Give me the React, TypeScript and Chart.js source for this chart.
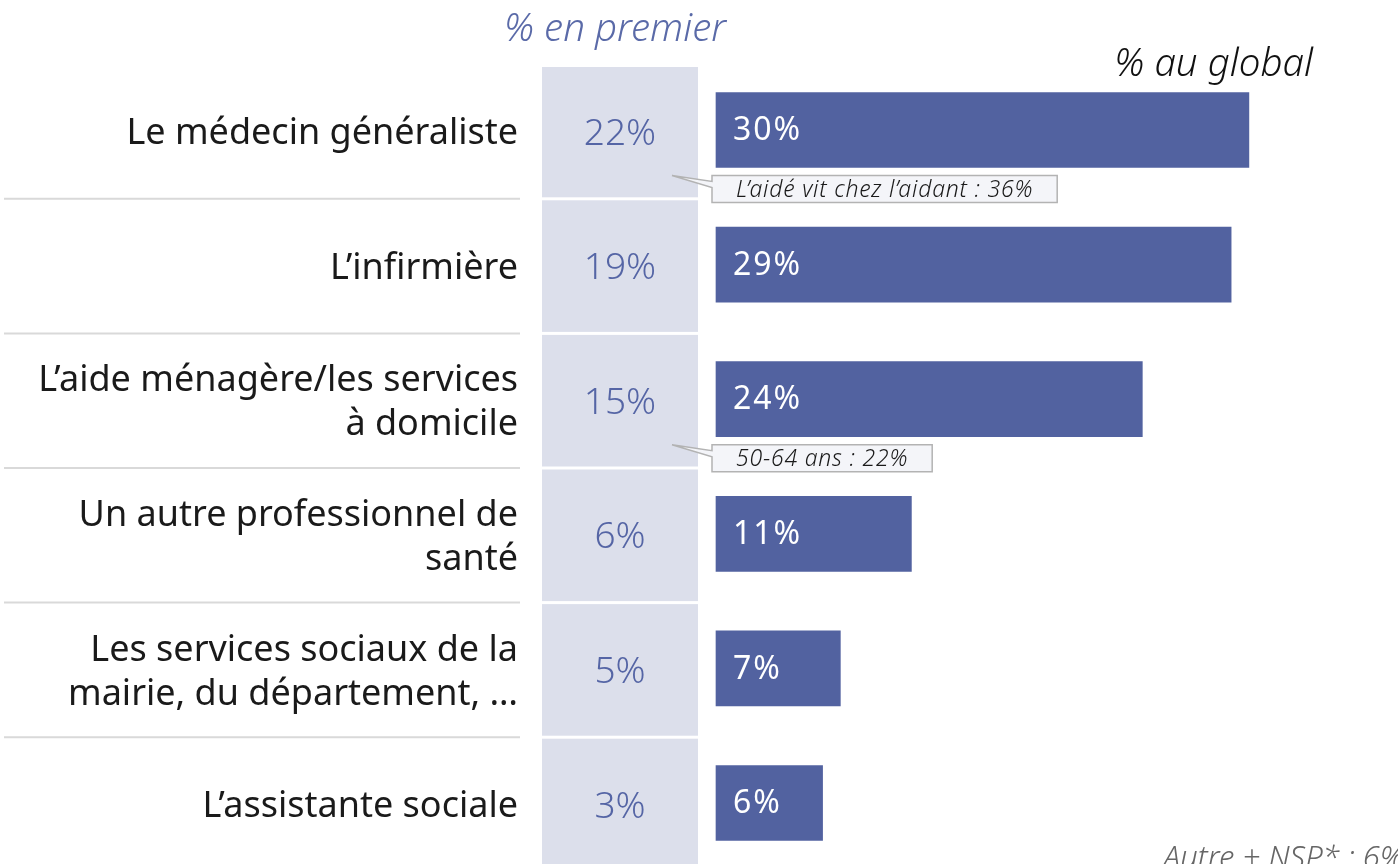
import React, { useEffect, useRef } from "react";
import { Chart, registerables } from "chart.js";
Chart.register(...registerables);

const categories: string[][] = [
  ["Le médecin généraliste"],
  ["L’infirmière"],
  ["L’aide ménagère/les services", "à domicile"],
  ["Un autre professionnel de", "santé"],
  ["Les services sociaux de la", "mairie, du département, …"],
  ["L’assistante sociale"],
];
const globalValues = [30, 29, 24, 11, 7, 6];
const firstValues = [22, 19, 15, 6, 5, 3];
const calloutIndex = [0, 2];
const calloutText = ["L’aidé vit chez l’aidant : 36%", "50-64 ans : 22%"];
const headerFirst = "% en premier";
const headerGlobal = "% au global";
const footerNote = "Autre + NSP* : 6%";

const FONT = "'Noto Sans', Lato, sans-serif";
const BAR = "#5262a0";
const COL = "#dcdfeb";

const decor = {
  id: "decor",
  beforeDatasetsDraw(chart: any) {
    const ctx = chart.ctx as CanvasRenderingContext2D;
    const ys = chart.scales.y;
    const n = categories.length;
    const centers = categories.map((_, i) => ys.getPixelForValue(i));
    const bounds: number[] = [];
    for (let i = 0; i < n - 1; i++) bounds.push((centers[i] + centers[i + 1]) / 2 + 1.5);
    const colL = 542, colR = 698;
    const top = centers[0] - 63;
    const bottom = chart.height;
    ctx.save();
    ctx.fillStyle = COL;
    for (let i = 0; i < n; i++) {
      const t = i === 0 ? top : bounds[i - 1] + 1.5;
      const b = i === n - 1 ? bottom : bounds[i] - 1.5;
      ctx.fillRect(colL, t, colR - colL, b - t);
    }
    ctx.strokeStyle = "#d9d9d9";
    ctx.lineWidth = 2;
    for (const b of bounds) {
      ctx.beginPath();
      ctx.moveTo(4, b);
      ctx.lineTo(520, b);
      ctx.stroke();
    }
    ctx.fillStyle = "#5565a5";
    ctx.font = `300 37px ${FONT}`;
    ctx.textAlign = "center";
    ctx.textBaseline = "middle";
    firstValues.forEach((v, i) => ctx.fillText(`${v}%`, (colL + colR) / 2, centers[i] + 4));
    // headers
    ctx.font = `italic 300 38.5px ${FONT}`;
    ctx.fillStyle = "#5a6aa8";
    ctx.textBaseline = "alphabetic";
    ctx.fillText(headerFirst, 615, 41);
    ctx.fillStyle = "#111";
    ctx.textAlign = "right";
    ctx.fillText(headerGlobal, 1313, 76);
    ctx.fillStyle = "#666";
    ctx.font = `italic 300 31px ${FONT}`;
    ctx.fillText(footerNote, 1404, 868);
    ctx.restore();
  },
  afterDatasetsDraw(chart: any) {
    const ctx = chart.ctx as CanvasRenderingContext2D;
    const meta = chart.getDatasetMeta(0);
    ctx.save();
    ctx.fillStyle = "#ffffff";
    ctx.font = `400 32px ${FONT}`;
    (ctx as any).letterSpacing = "2px";
    ctx.textAlign = "left";
    ctx.textBaseline = "middle";
    meta.data.forEach((el: any, i: number) => {
      ctx.fillText(`${globalValues[i]}%`, el.base + 17, el.y + 1);
    });
    // callouts
    ctx.font = `italic 300 23px ${FONT}`;
    (ctx as any).letterSpacing = "0.8px";
    calloutIndex.forEach((idx, k) => {
      const el: any = meta.data[idx];
      const L = el.base - 4;
      const T = el.y + el.height / 2 + 8;
      const w = ctx.measureText(calloutText[k]).width + 48;
      const H = 27;
      ctx.beginPath();
      ctx.moveTo(L, T);
      ctx.lineTo(L + w, T);
      ctx.lineTo(L + w, T + H);
      ctx.lineTo(L, T + H);
      ctx.lineTo(L, T + 12);
      ctx.lineTo(L - 40, T);
      ctx.lineTo(L, T + 6);
      ctx.closePath();
      ctx.fillStyle = "#f4f5f9";
      ctx.fill();
      ctx.strokeStyle = "#b3b3b3";
      ctx.lineWidth = 1.5;
      ctx.stroke();
      ctx.fillStyle = "#1a1a1a";
      ctx.textAlign = "left";
      ctx.textBaseline = "middle";
      ctx.fillText(calloutText[k], L + 24, T + H / 2 + 1);
    });
    ctx.restore();
  },
};

export default function App() {
  const ref = useRef<HTMLCanvasElement>(null);
  useEffect(() => {
    if (!ref.current) return;
    const chart = new Chart(ref.current, {
      type: "bar",
      data: {
        labels: categories,
        datasets: [
          {
            data: globalValues,
            backgroundColor: BAR,
            barThickness: 75,
            clip: false as any,
          },
        ],
      },
      options: {
        indexAxis: "y",
        animation: false,
        responsive: false,
        layout: { padding: { top: 130, bottom: 61, left: 0, right: 7 } },
        plugins: { legend: { display: false }, tooltip: { enabled: false } },
        scales: {
          x: { type: "linear", min: 0, max: 38, display: false },
          y: {
            type: "category",
            offset: false,
            grid: { display: false, drawTicks: false },
            border: { display: false },
            afterFit: (s: any) => {
              s.width = 716;
              s.paddingTop = 0;
              s.paddingBottom = 0;
            },
            ticks: {
              padding: 198,
              labelOffset: 4,
              color: "#1a1a1a",
              font: { family: FONT, size: 36, weight: "400", lineHeight: 1.22 },
            },
          },
        },
      },
      plugins: [decor],
    });
    return () => chart.destroy();
  }, []);
  return (
    <div style={{ position: "absolute", left: 0, top: 0, width: 1398, height: 864, background: "#fff" }}>
      <canvas ref={ref} width={1398} height={864} style={{ width: 1398, height: 864, display: "block" }} />
    </div>
  );
}
